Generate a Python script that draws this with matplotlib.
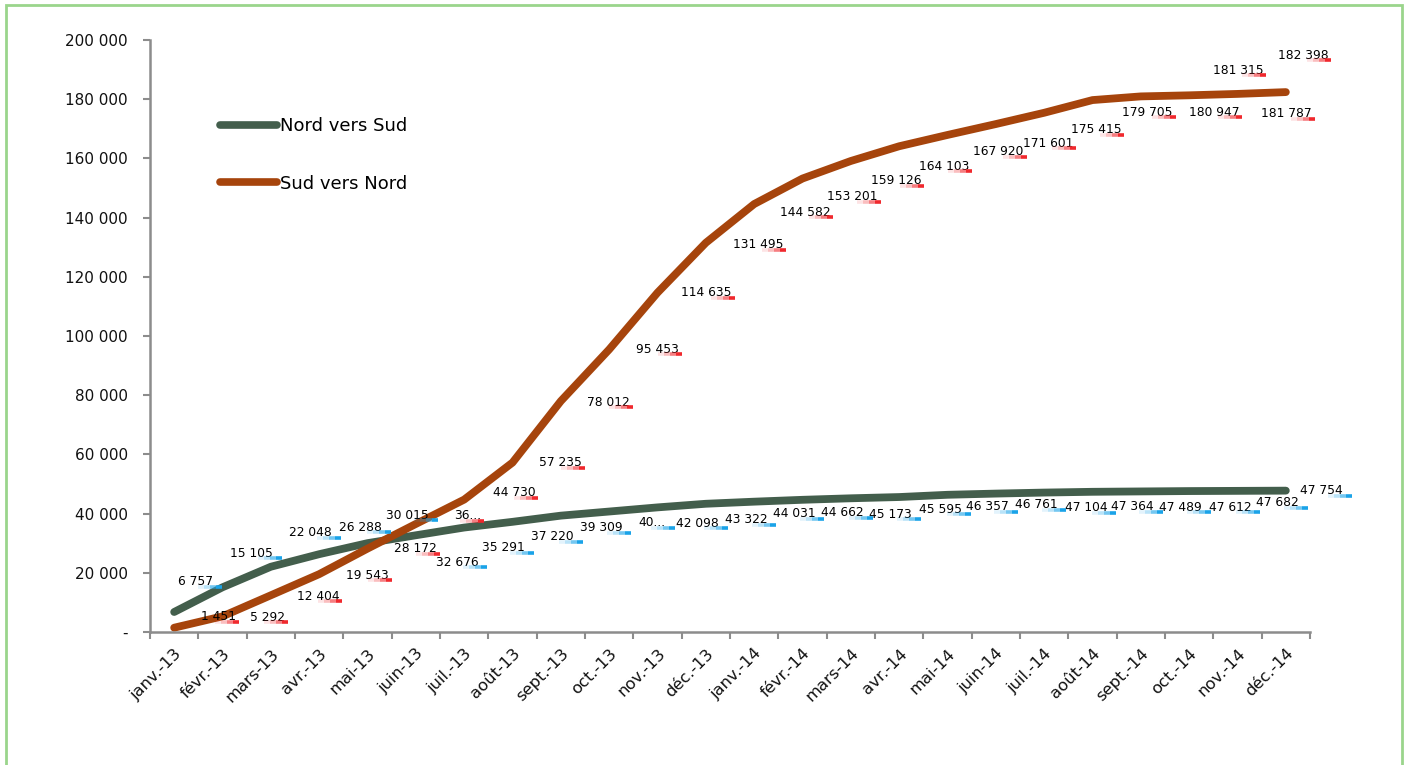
import numpy as np
import matplotlib
matplotlib.use('Agg')
import matplotlib.pyplot as plt
from matplotlib.lines import Line2D
from matplotlib.patches import Rectangle
from matplotlib.transforms import IdentityTransform

# Categories (months)
months = ['janv.-13', 'févr.-13', 'mars-13', 'avr.-13', 'mai-13', 'juin-13',
          'juil.-13', 'août-13', 'sept.-13', 'oct.-13', 'nov.-13', 'déc.-13',
          'janv.-14', 'févr.-14', 'mars-14', 'avr.-14', 'mai-14', 'juin-14',
          'juil.-14', 'août-14', 'sept.-14', 'oct.-14', 'nov.-14', 'déc.-14']

# Cumulative flows
nord_vers_sud = [6757, 15105, 22048, 26288, 30015, 32676, 35291, 37220, 39309, 40700,
                 42098, 43322, 44031, 44662, 45173, 45595, 46357, 46761, 47104, 47364,
                 47489, 47612, 47682, 47754]
sud_vers_nord = [1451, 5292, 12404, 19543, 28172, 36500, 44730, 57235, 78012, 95453,
                 114635, 131495, 144582, 153201, 159126, 164103, 167920, 171601, 175415,
                 179705, 180947, 181315, 181787, 182398]

# labels that are cut off in the original chart
nord_truncated = {9: '40...'}
sud_truncated = {5: '36...'}

y_ticks = [0, 20000, 40000, 60000, 80000, 100000, 120000, 140000, 160000, 180000, 200000]

# label offsets from the point, in pixels (dx right, dy down)
nord_dx = [21, 29, 40, 41, 40, 41, 39, 40, 40, 43, 40, 40, 40, 40, 40, 41, 40, 40, 42, 40, 40, 41, 40, 36]
nord_dy = [-30, -34, -34, -27, -28, 27, 20, 15, 12, 11, 16, 16, 12, 13, 16, 12, 12, 11, 15, 15, 16, 16, 12, 0]
sud_dx = [44, 45, 47, 48, 48, 52, 50, 48, 48, 48, 49, 52, 51, 50, 45, 45, 51, 52, 52, 55, 73, 49, 49, 17]
sud_dy = [-11, 1, 1, 1, 0, -8, -7, 0, 1, 0, 0, 2, 8, 18, 20, 20, 17, 19, 17, 12, 16, -25, 20, -37]

green = '#435E4C'
rust = '#A6440C'
blue_mark = '#1AA3E8'
red_mark = '#F0282D'
axis_gray = '#8C8C8C'

W, H = 1407, 765
fig = plt.figure(figsize=(W / 100, H / 100), dpi=100)
ax = fig.add_axes([150 / W, 1 - 632 / H, 1160 / W, 592 / H])

x = np.arange(len(months))
ax.plot(x, nord_vers_sud, color=green, lw=5.6, solid_capstyle='round',
        solid_joinstyle='round', label='Nord vers Sud', zorder=2)
ax.plot(x, sud_vers_nord, color=rust, lw=5.6, solid_capstyle='round',
        solid_joinstyle='round', label='Sud vers Nord', zorder=2)

ax.set_xlim(-0.5, len(months) - 0.5)
ax.set_ylim(0, 200000)

# axes styling
for side in ['top', 'right']:
    ax.spines[side].set_visible(False)
for side in ['left', 'bottom']:
    ax.spines[side].set_color(axis_gray)
    ax.spines[side].set_linewidth(1.8)

ax.set_yticks(y_ticks)
ax.set_yticklabels(['-' if v == 0 else f'{v:,}'.replace(',', ' ') for v in y_ticks])
ax.tick_params(axis='y', length=5, width=1.5, color=axis_gray, pad=11,
               labelsize=11, labelcolor='#111111')

ax.set_xticks(x)
ax.set_xticklabels(months, rotation=45, ha='right', rotation_mode='anchor')
ax.tick_params(axis='x', which='major', length=0, pad=10, labelsize=11.8, labelcolor='#111111')
ax.set_xticks(np.arange(-0.5, len(months)), minor=True)
ax.tick_params(axis='x', which='minor', length=5, width=1.5, color=axis_gray)


def fmt(v):
    return f'{v:,}'.replace(',', ' ')


def add_labels(values, dxs, dys, truncated, mark_color, mark_extra):
    texts = []
    for i, v in enumerate(values):
        s = truncated.get(i, fmt(v))
        t = ax.annotate(s, (i, v), xytext=(dxs[i] * 0.72, -dys[i] * 0.72),
                        textcoords='offset points', ha='center', va='center',
                        fontsize=8.8, color='black', zorder=4)
        texts.append(t)
    return [(t, mark_color, mark_extra) for t in texts]


labels = add_labels(nord_vers_sud, nord_dx, nord_dy, nord_truncated, blue_mark, 9)
labels += add_labels(sud_vers_nord, sud_dx, sud_dy, sud_truncated, red_mark, 3)

leg = ax.legend(loc='upper left', bbox_to_anchor=(220 / W, 1 - 117 / H),
                bbox_transform=fig.transFigure, frameon=False, fontsize=13,
                handlelength=3.15, handletextpad=0.2, labelspacing=2.2,
                borderpad=0, borderaxespad=0)
for h in leg.get_lines():
    h.set_linewidth(5.5)
    h.set_solid_capstyle('round')

# small fading underline marks under the data labels
fig.canvas.draw()
renderer = fig.canvas.get_renderer()
for t, c, extra in labels:
    bb = t.get_window_extent(renderer)
    xr = bb.x1 + extra
    yb = bb.y0 + 1.5
    for k, a in enumerate([0.12, 0.3, 0.6, 1.0]):
        x0 = xr - (4 - k) * 6
        fig.add_artist(Line2D([x0, x0 + 6], [yb, yb], color=c, alpha=a, lw=2.6,
                              solid_capstyle='butt', transform=IdentityTransform(),
                              zorder=3))

# light green frame around the chart
fig.add_artist(Rectangle((6 / W, -0.02), 1396 / W, 1 - 5 / H + 0.02,
                         transform=fig.transFigure, fill=False,
                         edgecolor='#9AD58C', linewidth=2))

fig.savefig('out.png', dpi=100)
